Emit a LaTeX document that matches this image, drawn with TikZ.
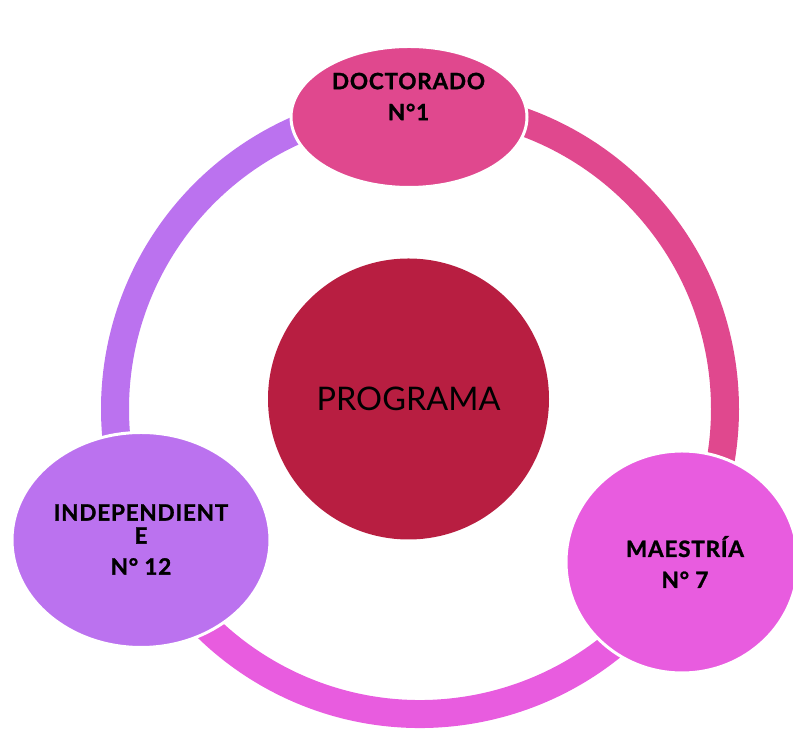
\documentclass[tikz,border=0pt]{standalone}
\usepackage{fontspec}
\setmainfont{Lato}
\newfontfamily\lblfont{Lato}[BoldFeatures={FakeBold=1.2,LetterSpace=3.5}]
\usetikzlibrary{shapes.geometric}
\definecolor{crimson}{RGB}{184,30,65}
\definecolor{rose}{RGB}{224,72,142}
\definecolor{magent}{RGB}{232,92,223}
\definecolor{lilac}{RGB}{187,114,239}
\tikzset{
  ringseg/.style={line width=28pt},
  bubble/.style={ellipse, draw=white, line width=3pt, inner sep=0pt},
  lbl/.style={align=center, font=\lblfont\fontsize{22.5}{31}\selectfont\bfseries, text=black, inner sep=0pt},
}
\begin{document}
\begin{tikzpicture}[x=1pt,y=1pt]
\useasboundingbox (0,0) rectangle (793,730);
\coordinate (ring) at (420,321);
% ring segments
\draw[ringseg, rose]   ([shift={(92:305)}]ring) arc[start angle=92, end angle=-30, radius=305];
\draw[ringseg, magent] ([shift={(-30:305)}]ring) arc[start angle=-30, end angle=-155, radius=305];
\draw[ringseg, lilac]  ([shift={(205:305)}]ring) arc[start angle=205, end angle=92, radius=305];
% center
\node[circle, fill=crimson, minimum size=281pt, inner sep=0pt, font=\fontsize{32.5}{38}\selectfont, text=black] (prog) at (408.5,331) {PROGRAMA};
% ellipses
\node[bubble, fill=rose, minimum width=236pt, minimum height=141pt] (doc) at (409,613) {};
\node[bubble, fill=magent, minimum width=232pt, minimum height=222pt] (mae) at (682,168) {};
\node[bubble, fill=lilac, minimum width=258pt, minimum height=215pt] (ind) at (141,190) {};
% labels
\node[lbl] (doct) at (408.5,633.5) {DOCTORADO\\N°1};
\node[lbl] (maet) at (685,168) {MAESTRÍA\\N° 7};
\node[lbl] (indt) at (141,190.5) {INDEPENDIENT\\[-8pt]E\\N° 12};
\end{tikzpicture}
\end{document}
